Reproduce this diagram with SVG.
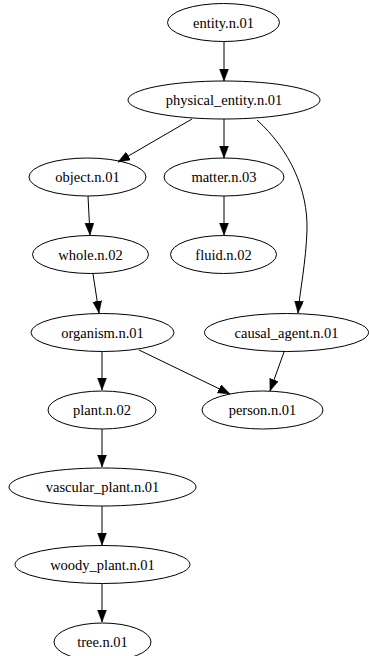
<svg xmlns="http://www.w3.org/2000/svg" width="369" height="656" viewBox="0 0 369 656">
<style>
.n ellipse{fill:none;stroke:#000;stroke-width:1}
.n text{font-family:"Liberation Serif","Times New Roman",Times,serif;font-size:14.5px;text-anchor:middle;fill:#000}
#edges path{fill:none;stroke:#000;stroke-width:1;marker-end:url(#ah)}
</style>
<defs>
<marker id="ah" markerUnits="userSpaceOnUse" markerWidth="12" markerHeight="10" refX="12" refY="4.5" orient="auto">
<path d="M0,0 L12,4.5 L0,9 z" fill="#000" stroke="#000" stroke-width="0.5"/>
</marker>
</defs>
<rect width="369" height="656" fill="#fff"/>
<g id="edges">
<path d="M224,42 L224,81"/>
<path d="M192,119 L118,162"/>
<path d="M224,119 L224,158"/>
<path d="M257,120 C290,150 308,190 307,230 C306,262 300,290 298,313"/>
<path d="M88,196 L90,235"/>
<path d="M224,196 L224,235"/>
<path d="M93,274 L99,313"/>
<path d="M102,352 L102,390"/>
<path d="M139,350 L230,394"/>
<path d="M284,352 L270,391"/>
<path d="M102,429 L102,467"/>
<path d="M102,506 L102,545"/>
<path d="M102,584 L102,622"/>
</g>
<g id="entity" class="n"><ellipse cx="223.5" cy="22.5" rx="56" ry="19"/><text x="223.5" y="27.5">entity.n.01</text></g>
<g id="physical_entity" class="n"><ellipse cx="224" cy="100" rx="96" ry="19"/><text x="224" y="105">physical_entity.n.01</text></g>
<g id="object" class="n"><ellipse cx="87.5" cy="177" rx="58.5" ry="19"/><text x="87.5" y="182">object.n.01</text></g>
<g id="matter" class="n"><ellipse cx="224" cy="177" rx="60" ry="19"/><text x="224" y="182">matter.n.03</text></g>
<g id="whole" class="n"><ellipse cx="90.5" cy="254.5" rx="58" ry="19"/><text x="90.5" y="259.5">whole.n.02</text></g>
<g id="fluid" class="n"><ellipse cx="223.5" cy="254.5" rx="53" ry="19"/><text x="223.5" y="259.5">fluid.n.02</text></g>
<g id="organism" class="n"><ellipse cx="102.5" cy="332.5" rx="71.5" ry="19"/><text x="102.5" y="337.5">organism.n.01</text></g>
<g id="causal_agent" class="n"><ellipse cx="286.5" cy="332.5" rx="82" ry="19"/><text x="286.5" y="337.5">causal_agent.n.01</text></g>
<g id="plant" class="n"><ellipse cx="102" cy="410" rx="54" ry="19"/><text x="102" y="415">plant.n.02</text></g>
<g id="person" class="n"><ellipse cx="262.5" cy="410" rx="60.5" ry="19"/><text x="262.5" y="415">person.n.01</text></g>
<g id="vascular_plant" class="n"><ellipse cx="102.5" cy="487" rx="93.5" ry="19"/><text x="102.5" y="492">vascular_plant.n.01</text></g>
<g id="woody_plant" class="n"><ellipse cx="102.5" cy="564.5" rx="87.5" ry="19"/><text x="102.5" y="569.5">woody_plant.n.01</text></g>
<g id="tree" class="n"><ellipse cx="102.5" cy="642" rx="48.5" ry="19"/><text x="102.5" y="647">tree.n.01</text></g>
</svg>
